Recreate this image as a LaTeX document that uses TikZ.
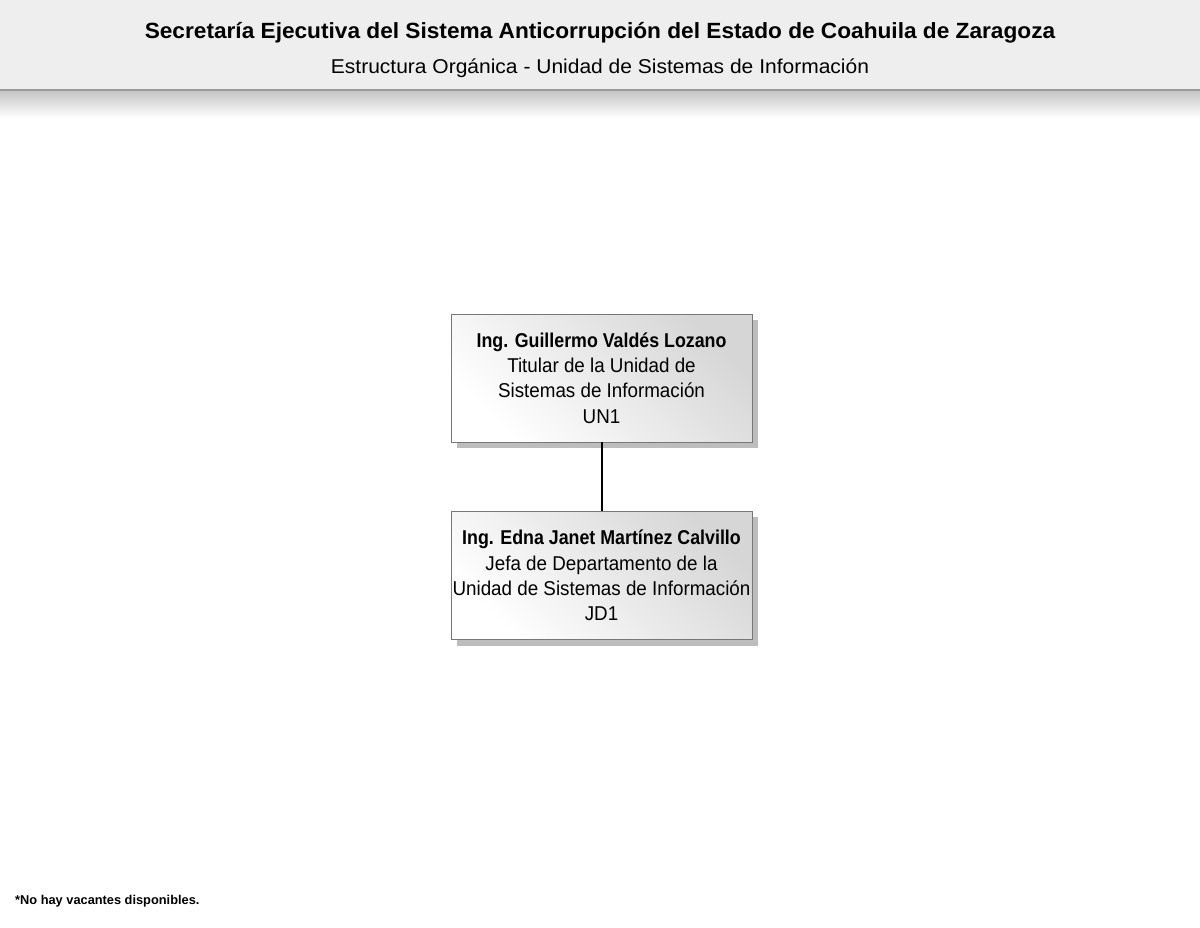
\documentclass[tikz,border=0pt]{standalone}
\usepackage{fontspec}
\setmainfont{Liberation Sans}
\newfontfamily\boxfont[FakeStretch=0.94]{Liberation Sans}
\newfontfamily\boxboldfont[FakeStretch=0.89]{Liberation Sans Bold}
\newfontfamily\titlefont[FakeStretch=1.03]{Liberation Sans Bold}
\newfontfamily\subfont[FakeStretch=1.05]{Liberation Sans}
\usetikzlibrary{positioning}
\definecolor{hdr}{HTML}{EEEEEE}
\definecolor{hdrline}{HTML}{9A9A9A}
\definecolor{boxborder}{HTML}{777777}
\definecolor{boxdark}{HTML}{D6D6D6}
\definecolor{shadowgray}{HTML}{BDBDBD}
\tikzset{
  orgbox/.style={draw=boxborder, line width=0.8pt, minimum width=301pt, minimum height=128pt,
    left color=white, right color=boxdark, shading angle=135, inner sep=0pt,
    align=center, font=\boxfont\fontsize{20}{25.2}\selectfont, text=black},
  link/.style={line width=2pt, black},
}
\begin{document}
\begin{tikzpicture}[x=1pt,y=-1pt]
\useasboundingbox (0,0) rectangle (1200,927);
\fill[white] (0,0) rectangle (1200,927);
% header
\fill[hdr] (0,0) rectangle (1200,89);
\shade[top color=gray!45, bottom color=white] (0,91) rectangle (1200,118);
\fill[hdrline] (0,88.5) rectangle (1200,91);
\node[font=\titlefont\fontsize{22}{26}\selectfont, anchor=center] (title) at (600,33) {Secretaría Ejecutiva del Sistema Anticorrupción del Estado de Coahuila de Zaragoza};
\node[font=\subfont\fontsize{20}{22}\selectfont, anchor=center] (subtitle) at (600,68) {Estructura Orgánica - Unidad de Sistemas de Información};
% shadows
\fill[shadowgray] (457,320) rectangle (758,448);
\fill[shadowgray] (457,517) rectangle (758,646);
% boxes
\node[orgbox] (un1) at (601.5,378) {{\boxboldfont Ing. Guillermo Valdés Lozano}\\Titular de la Unidad de\\Sistemas de Información\\UN1};
\node[orgbox] (jd1) at (601.5,575.5) {{\boxboldfont Ing. Edna Janet Martínez Calvillo}\\Jefa de Departamento de la\\Unidad de Sistemas de Información\\JD1};
\draw[link] (un1.south) -- (jd1.north);
% footer
\node[font=\bfseries\fontsize{12.8}{15}\selectfont, anchor=west, inner sep=0pt] (note) at (15,901) {*No hay vacantes disponibles.};
\end{tikzpicture}
\end{document}
